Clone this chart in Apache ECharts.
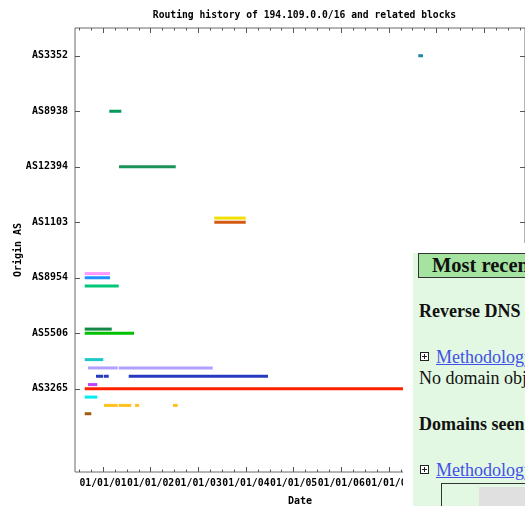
<!DOCTYPE html>
<html>
<head>
<meta charset="utf-8">
<script src="https://cdn.jsdelivr.net/npm/echarts@6/dist/echarts.min.js"></script>
<style>
  html, body { margin: 0; padding: 0; background: #fff; overflow: hidden; }
  #chart { position: absolute; left: 0; top: 0; width: 525px; height: 506px; }
  #cover { position: absolute; left: 403px; top: 243px; width: 122px; height: 263px; background: #fff; }
  #panel { position: absolute; left: 413px; top: 253px; width: 112px; height: 253px;
           background: #e2f8e2; overflow: hidden; font-family: "Liberation Serif", "DejaVu Serif", serif; color: #111; }
  #panel div { position: absolute; white-space: nowrap; }
  .hdr { left: 5px; top: 0; width: 200px; height: 23px; background: #a4e4a0; border: 1.5px solid #333; }
  .big { font-size: 20.5px; line-height: 20.5px; font-weight: bold; }
  .txt { font-size: 18px; line-height: 18px; }
  .b { font-weight: bold; }
  .lnk { color: #4150e6; text-decoration: underline; }
  .plus { width: 7px; height: 7px; border: 1px solid #222;
          background: linear-gradient(#222, #222) center / 5px 1px no-repeat,
                      linear-gradient(#222, #222) center / 1px 5px no-repeat, #fff; }
  .box { left: 28px; top: 230px; width: 200px; height: 60px; border: 1.5px solid #333; }
  .cell { left: 66px; top: 234px; width: 200px; height: 60px; background: #e0e0e0; }
</style>
</head>
<body>
<div id="chart"></div>
<div id="cover"></div>
<div id="panel">
  <div class="hdr"></div>
  <div class="big" style="left:19px; top:1.6px;">Most recent</div>
  <div class="txt b" style="left:6px; top:49px;">Reverse DNS</div>
  <div class="plus" style="left:7px; top:99px;"></div>
  <div class="txt lnk" style="left:23px; top:95px;">Methodology</div>
  <div class="txt" style="left:6px; top:116px;">No domain objects</div>
  <div class="txt b" style="left:6px; top:162px;">Domains seen</div>
  <div class="plus" style="left:7px; top:212px;"></div>
  <div class="txt lnk" style="left:23px; top:208px;">Methodology</div>
  <div class="box"></div>
  <div class="cell"></div>
</div>
<script>
// chart texts
var titleText = 'Routing history of 194.109.0.0/16 and related blocks';
var xName = 'Date';
var yName = 'Origin AS';

// origin AS tick positions and labels
var asNames = ['AS3265', 'AS5506', 'AS8954', 'AS1103', 'AS12394', 'AS8938', 'AS3352'];
var asTicks = [1.5, 2.5, 3.5, 4.5, 5.5, 6.5, 7.5];

// year ticks (01/01/yy)
var yearTicks = [2001, 2002, 2003, 2004, 2005, 2006, 2007, 2008, 2009];
var yearLabels = ['01/01/01', '01/01/02', '01/01/03', '01/01/04', '01/01/05', '01/01/06', '01/01/07', '01/01/08', '01/01/09'];

// one row per prefix: level on the AS axis, and the periods it was announced (fractional years)
var rowLevel = [7.5, 6.5, 5.5, 4.575, 4.5, 3.575, 3.5, 3.35, 2.575, 2.5,
                2.025, 1.875, 1.725, 1.575, 1.5, 1.35, 1.2, 1.05];
var rowPeriods = [
    [[2007.617, 2007.716]],
    [[2001.132, 2001.384]],
    [[2001.336, 2002.526]],
    [[2003.336, 2003.995]],
    [[2003.336, 2003.995]],
    [[2000.616, 2001.147]],
    [[2000.616, 2001.147]],
    [[2000.616, 2001.329]],
    [[2000.616, 2001.183]],
    [[2000.616, 2001.651]],
    [[2000.616, 2001.006]],
    [[2000.685, 2001.308], [2001.329, 2003.302]],
    [[2000.853, 2001.000], [2001.015, 2001.120], [2001.539, 2004.463]],
    [[2000.685, 2000.880]],
    [[2000.616, 2007.500]],
    [[2000.616, 2000.880]],
    [[2001.021, 2001.308], [2001.329, 2001.594], [2001.672, 2001.756], [2002.469, 2002.568]],
    [[2000.616, 2000.754]]
];
var rowColors = ['#1a88a8', '#00995a', '#1a9258', '#f0e000', '#d55a10', '#ff99ff', '#1e90ff', '#00c878',
                 '#118844', '#00c000', '#1ec8c8', '#b0a0ff', '#2838c0', '#c040ff', '#ff2000', '#00eef0',
                 '#ffc020', '#a05a10'];

var xMin = 2000.412, xMax = 2009.856;

// quarter ticks between the years
var quarterTicks = [];
for (var y = 2000; y <= 2009; y++) {
    [0.25, 0.5, 0.75].forEach(function (q) {
        if (y + q > xMin && y + q < xMax) quarterTicks.push(y + q);
    });
}

var segs = [];
rowPeriods.forEach(function (periods, i) {
    periods.forEach(function (p) {
        segs.push([p[0], p[1], rowLevel[i], i]);
    });
});

var monoFont = { fontFamily: 'DejaVu Sans Mono', fontWeight: 'bold', fontSize: 10, color: '#000' };
var tickColor = '#555';

function xAx(pos, vals, len, withLabels) {
    return {
        type: 'value', position: pos, min: xMin, max: xMax,
        axisLine: { show: false },
        splitLine: { show: false },
        axisTick: { show: true, inside: true, length: len, customValues: vals, lineStyle: { color: tickColor } },
        axisLabel: withLabels ? Object.assign({}, monoFont, {
            show: true, margin: 6, customValues: yearTicks, fontSize: 9.8,
            hideOverlap: false, showMinLabel: true, showMaxLabel: true,
            formatter: function (v) { return yearLabels[Math.round(v) - 2001]; }
        }) : { show: false },
        name: withLabels ? xName : '',
        nameLocation: 'middle',
        nameGap: 24,
        nameMoveOverlap: false,
        nameTextStyle: monoFont
    };
}

function yAx(pos, withLabels) {
    return {
        type: 'value', position: pos, min: 0, max: 8,
        axisLine: { show: false },
        splitLine: { show: false },
        axisTick: { show: true, inside: true, length: 5, customValues: asTicks, lineStyle: { color: tickColor } },
        axisLabel: withLabels ? Object.assign({}, monoFont, {
            show: true, margin: 7, customValues: asTicks,
            hideOverlap: false, showMinLabel: true, showMaxLabel: true,
            formatter: function (v) { return asNames[Math.round(v - 1.5)]; }
        }) : { show: false },
        name: withLabels ? yName : '',
        nameLocation: 'middle',
        nameRotate: 90,
        nameGap: 52,
        nameMoveOverlap: false,
        nameTextStyle: monoFont
    };
}

var myChart = echarts.init(document.getElementById('chart'));
myChart.setOption({
    animation: false,
    title: {
        text: titleText, left: 299.5, top: 5, textAlign: 'center',
        textStyle: { fontFamily: 'DejaVu Sans Mono', fontWeight: 'bold', fontSize: 9.7, color: '#000' }
    },
    grid: {
        left: 75, top: 28, width: 450, height: 444, outerBoundsMode: 'none', containLabel: false,
        show: true, borderColor: '#6a6a6a', borderWidth: 1
    },
    xAxis: [
        xAx('bottom', yearTicks, 5, true),
        xAx('bottom', quarterTicks, 2.5, false),
        xAx('top', yearTicks, 5, false),
        xAx('top', quarterTicks, 2.5, false)
    ],
    yAxis: [yAx('left', true), yAx('right', false)],
    series: [{
        type: 'custom',
        xAxisIndex: 0,
        yAxisIndex: 0,
        encode: { x: [0, 1], y: 2 },
        data: segs,
        renderItem: function (params, api) {
            var a = api.coord([api.value(0), api.value(2)]);
            var b = api.coord([api.value(1), api.value(2)]);
            return {
                type: 'rect',
                shape: { x: a[0], y: a[1] - 1.5, width: b[0] - a[0], height: 3 },
                style: { fill: rowColors[api.value(3)] }
            };
        }
    }]
});
</script>
</body>
</html>
